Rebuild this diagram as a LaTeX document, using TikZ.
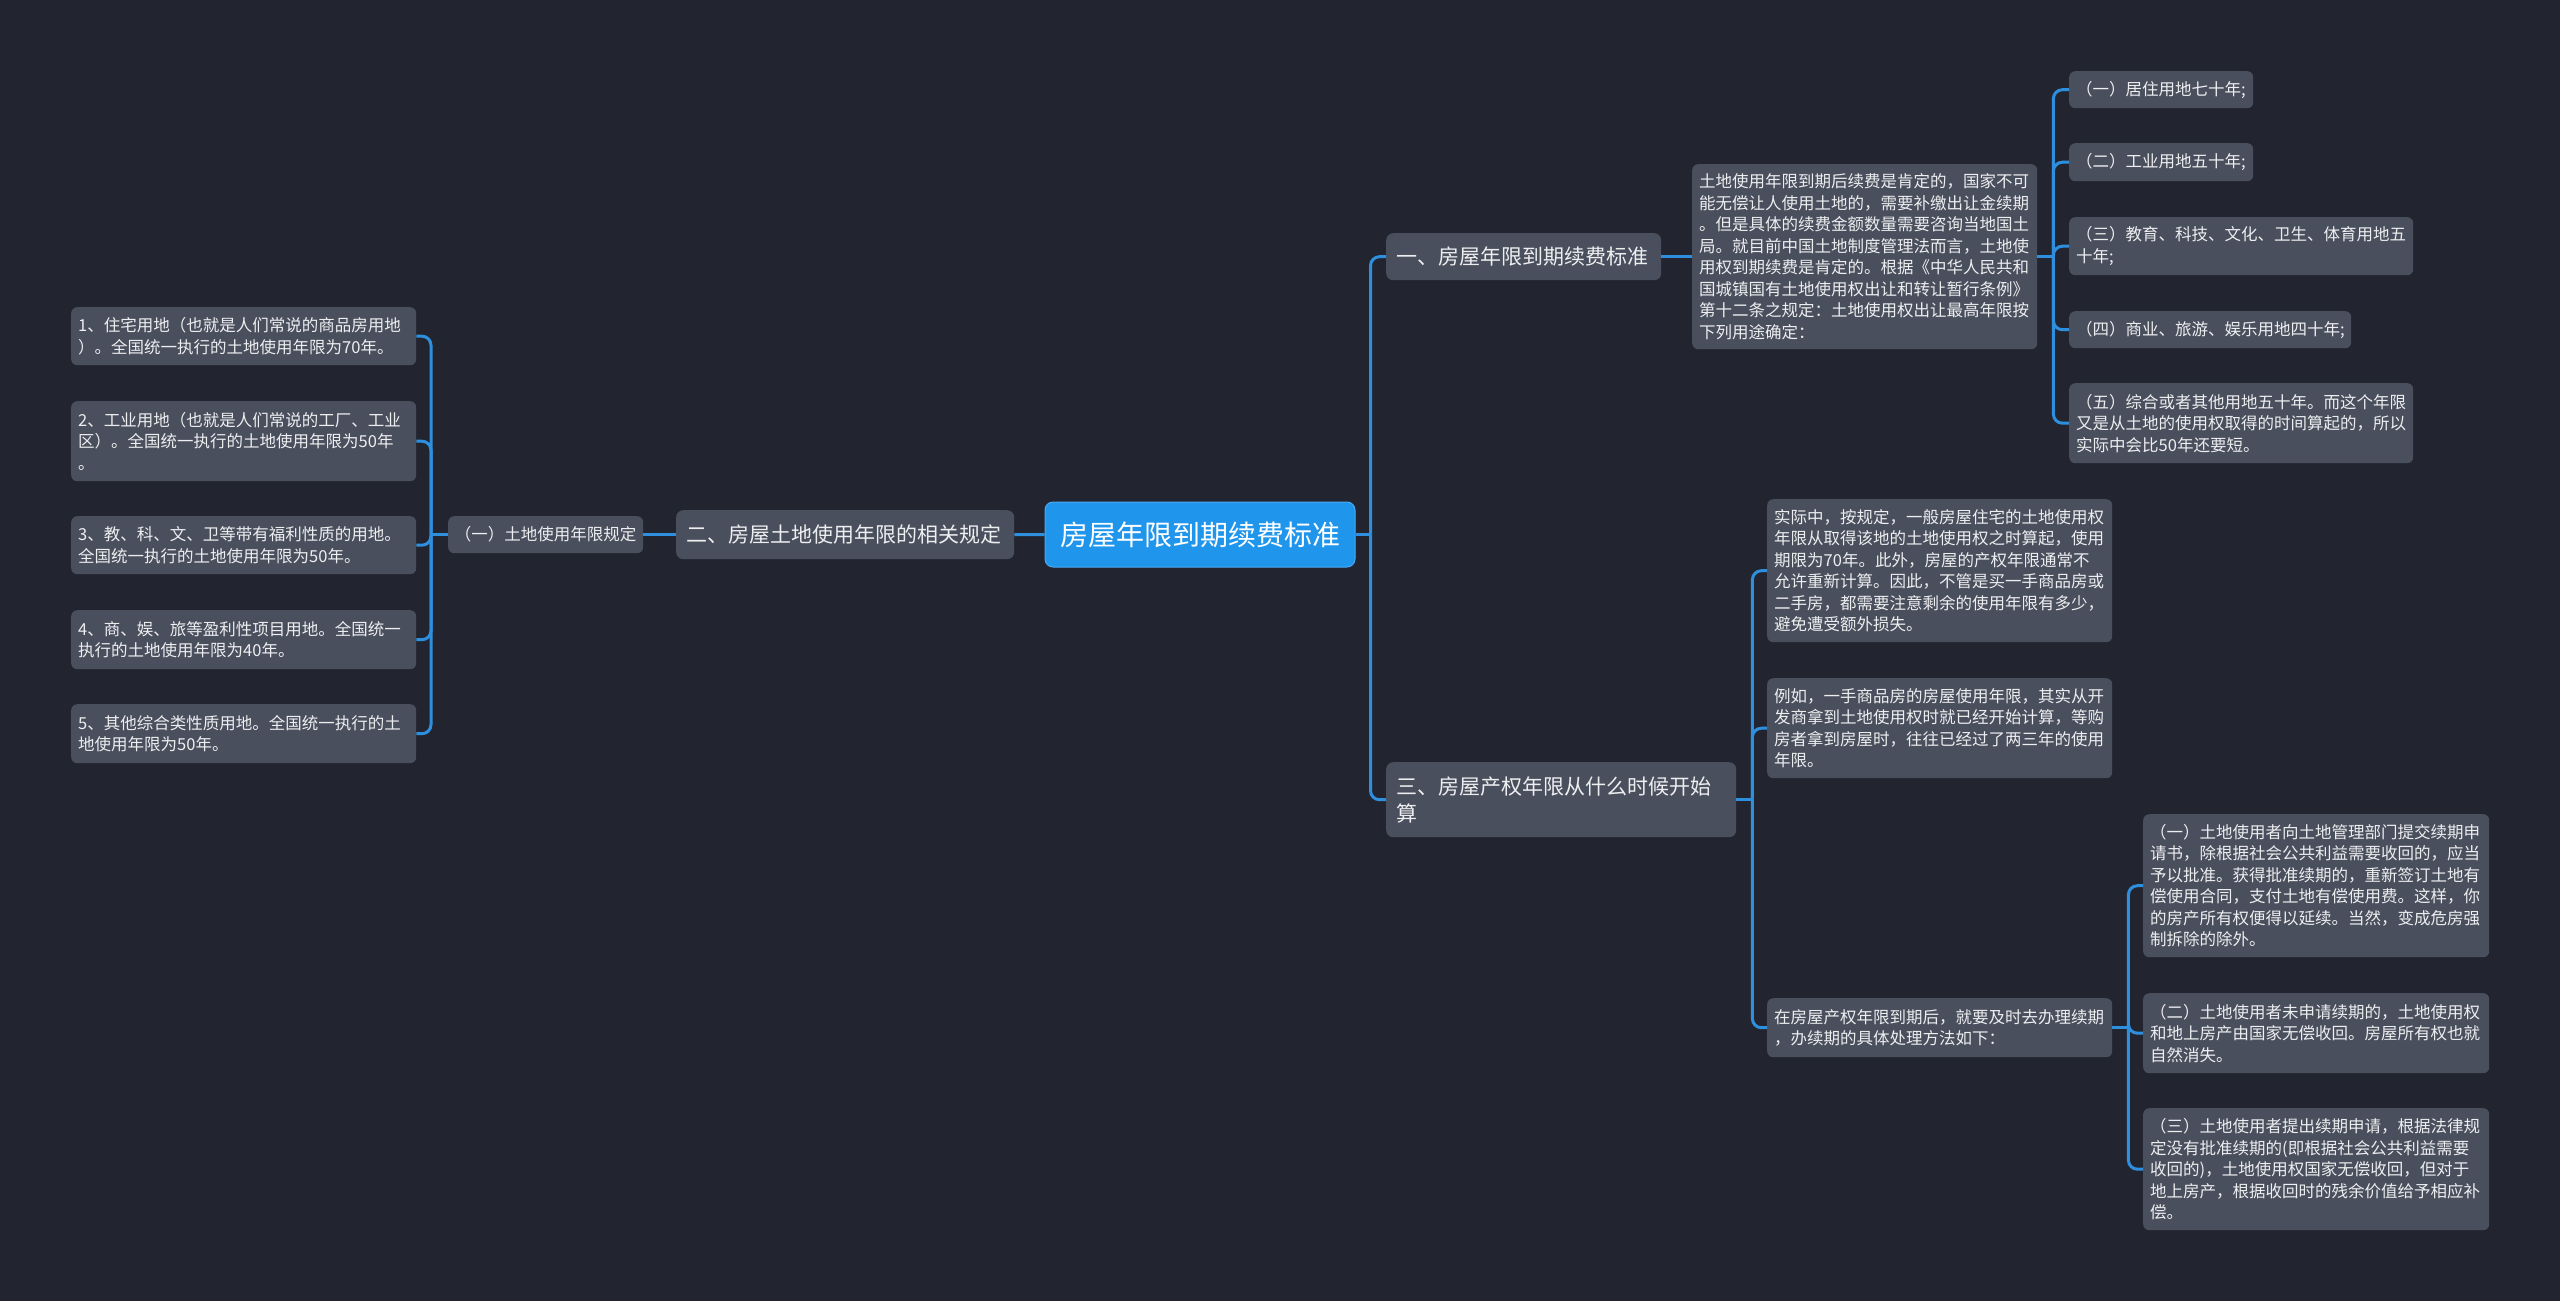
\documentclass[tikz,border=0pt]{standalone}
\usepackage{fontspec}
\setmainfont{Noto Sans CJK SC}
\usetikzlibrary{positioning}

\definecolor{bgnavy}{HTML}{22252F}
\definecolor{boxgray}{HTML}{4A4F5D}
\definecolor{rootblue}{HTML}{1F95EC}
\definecolor{rootedge}{HTML}{4AAAF4}
\definecolor{linkblue}{HTML}{2D8FDE}
\definecolor{txtgray}{HTML}{EDEEF0}

\begin{document}
\begin{tikzpicture}[
  x=1pt, y=-1pt,
  root/.style  = {fill=rootblue, draw=rootedge, line width=1pt,
                  rounded corners=8pt, text=white, align=center,
                  font=\fontsize{28}{34}\selectfont, inner sep=0pt,
                  minimum width=310pt, minimum height=65pt},
  topic/.style = {fill=boxgray, rounded corners=7pt, text=txtgray,
                  align=left, anchor=north west, inner xsep=10pt,
                  inner ysep=0pt, font=\fontsize{21}{27}\selectfont},
  sub/.style   = {fill=boxgray, rounded corners=6pt, text=txtgray,
                  align=center, anchor=north west, inner sep=0pt,
                  font=\fontsize{16.5}{21.5}\selectfont},
  leaf/.style  = {fill=boxgray, rounded corners=6pt, text=txtgray,
                  align=left, anchor=north west, inner xsep=7pt,
                  inner ysep=0pt, text width=331pt,
                  font=\fontsize{16.5}{21.5}\selectfont},
  link/.style  = {draw=linkblue, line width=3pt},
  elbow/.style = {link, rounded corners=9pt},
]

%% ==== background, fixes the page size =====================================
\fill[bgnavy] (0,0) rectangle (2560,1301);

%% ==== centre ==============================================================
\node[root] (root) at (1200,534.5) {房屋年限到期续费标准};

%% ==== left branch: 二 =====================================================
\node[topic, text width=318pt, minimum height=49pt] (b2) at (676,510)
  {二、房屋土地使用年限的相关规定};
\node[sub, minimum width=195pt, minimum height=37pt] (b21) at (448,516)
  {（一）土地使用年限规定};

\node[leaf, minimum height=58pt] (l1) at (71,307)
  {1、住宅用地（也就是人们常说的商品房用地\\）。全国统一执行的土地使用年限为70年。};
\node[leaf, minimum height=80pt] (l2) at (71,401)
  {2、工业用地（也就是人们常说的工厂、工业\\区）。全国统一执行的土地使用年限为50年\\。};
\node[leaf, minimum height=58pt] (l3) at (71,516)
  {3、教、科、文、卫等带有福利性质的用地。\\全国统一执行的土地使用年限为50年。};
\node[leaf, minimum height=59pt] (l4) at (71,610)
  {4、商、娱、旅等盈利性项目用地。全国统一\\执行的土地使用年限为40年。};
\node[leaf, minimum height=59pt] (l5) at (71,704)
  {5、其他综合类性质用地。全国统一执行的土\\地使用年限为50年。};

%% ==== right branch: 一 ====================================================
\node[topic, text width=255pt, minimum height=47pt] (b1) at (1386,233)
  {一、房屋年限到期续费标准};
\node[leaf, minimum height=185pt] (desc) at (1692,164)
  {土地使用年限到期后续费是肯定的，国家不可\\能无偿让人使用土地的，需要补缴出让金续期\\。但是具体的续费金额数量需要咨询当地国土\\局。就目前中国土地制度管理法而言，土地使\\用权到期续费是肯定的。根据《中华人民共和\\国城镇国有土地使用权出让和转让暂行条例》\\第十二条之规定：土地使用权出让最高年限按\\下列用途确定：};

\node[leaf, text width=170pt, minimum height=37pt] (i1) at (2069,71)
  {（一）居住用地七十年;};
\node[leaf, text width=170pt, minimum height=38pt] (i2) at (2069,143)
  {（二）工业用地五十年;};
\node[leaf, text width=330pt, minimum height=58pt] (i3) at (2069,217)
  {（三）教育、科技、文化、卫生、体育用地五\\十年;};
\node[leaf, text width=268pt, minimum height=37pt] (i4) at (2069,311)
  {（四）商业、旅游、娱乐用地四十年;};
\node[leaf, text width=330pt, minimum height=80pt] (i5) at (2069,383)
  {（五）综合或者其他用地五十年。而这个年限\\又是从土地的使用权取得的时间算起的，所以\\实际中会比50年还要短。};

%% ==== right branch: 三 ====================================================
\node[topic, text width=330pt, minimum height=75pt] (b3) at (1386,762)
  {三、房屋产权年限从什么时候开始\\算};
\node[leaf, minimum height=143pt] (c1) at (1767,499)
  {实际中，按规定，一般房屋住宅的土地使用权\\年限从取得该地的土地使用权之时算起，使用\\期限为70年。此外，房屋的产权年限通常不\\允许重新计算。因此，不管是买一手商品房或\\二手房，都需要注意剩余的使用年限有多少，\\避免遭受额外损失。};
\node[leaf, minimum height=100pt] (c2) at (1767,678)
  {例如，一手商品房的房屋使用年限，其实从开\\发商拿到土地使用权时就已经开始计算，等购\\房者拿到房屋时，往往已经过了两三年的使用\\年限。};
\node[leaf, minimum height=59pt] (c3) at (1767,998)
  {在房屋产权年限到期后，就要及时去办理续期\\，办续期的具体处理方法如下：};

\node[leaf, text width=332pt, minimum height=143pt] (d1) at (2143,814)
  {（一）土地使用者向土地管理部门提交续期申\\请书，除根据社会公共利益需要收回的，应当\\予以批准。获得批准续期的，重新签订土地有\\偿使用合同，支付土地有偿使用费。这样，你\\的房产所有权便得以延续。当然，变成危房强\\制拆除的除外。};
\node[leaf, text width=332pt, minimum height=80pt] (d2) at (2143,993)
  {（二）土地使用者未申请续期的，土地使用权\\和地上房产由国家无偿收回。房屋所有权也就\\自然消失。};
\node[leaf, text width=332pt, minimum height=122pt] (d3) at (2143,1108)
  {（三）土地使用者提出续期申请，根据法律规\\定没有批准续期的(即根据社会公共利益需要\\收回的)，土地使用权国家无偿收回，但对于\\地上房产，根据收回时的残余价值给予相应补\\偿。};

%% ==== connectors, centre ==================================================
\draw[link] (root.west) -- (b2.east);
\draw[link] (root.east) -- ++(15,0) coordinate (rj);
\draw[elbow] (rj) |- (b1.west);
\draw[elbow] (rj) |- (b3.west);

%% ==== connectors, left ====================================================
\draw[link] (b2.west) -- (b21.east);
\draw[link] (b21.west) -- ++(-17,0) coordinate (lj);
\draw[elbow] (lj) |- (l1.east);
\draw[elbow] (lj) |- (l2.east);
\draw[elbow] (lj) |- (l3.east);
\draw[elbow] (lj) |- (l4.east);
\draw[elbow] (lj) |- (l5.east);

%% ==== connectors, 一 ======================================================
\draw[link] (b1.east) -- (desc.west);
\draw[link] (desc.east) -- ++(16,0) coordinate (dj);
\draw[elbow] (dj) |- (i1.west);
\draw[elbow] (dj) |- (i2.west);
\draw[elbow] (dj) |- (i3.west);
\draw[elbow] (dj) |- (i4.west);
\draw[elbow] (dj) |- (i5.west);

%% ==== connectors, 三 ======================================================
\draw[link] (b3.east) -- ++(16,0) coordinate (tj);
\draw[elbow] (tj) |- (c1.west);
\draw[elbow] (tj) |- (c2.west);
\draw[elbow] (tj) |- (c3.west);
\draw[link] (c3.east) -- ++(16,0) coordinate (cj);
\draw[elbow] (cj) |- (d1.west);
\draw[elbow] (cj) |- (d2.west);
\draw[elbow] (cj) |- (d3.west);

\end{tikzpicture}
\end{document}
